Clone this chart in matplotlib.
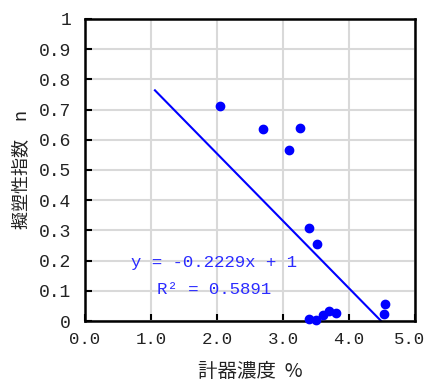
import matplotlib.pyplot as plt
import matplotlib.transforms as mtransforms
import numpy as np

# 計器濃度 (%) と 擬塑性指数 n
conc = [2.05, 2.70, 3.26, 3.09, 3.39, 3.52, 3.39, 3.50, 3.60, 3.69, 3.81, 4.55, 4.53]
n_idx = [0.711, 0.637, 0.639, 0.565, 0.307, 0.254, 0.007, 0.003, 0.020, 0.034, 0.027, 0.055, 0.024]

slope = -0.2229
intercept = 1.0
r2 = 0.5891
trend_x = [1.06, -intercept / slope]

x_ticks = [0, 1, 2, 3, 4, 5]
y_ticks = [0, 0.1, 0.2, 0.3, 0.4, 0.5, 0.6, 0.7, 0.8, 0.9, 1.0]
y_ticklabels = ["0", "0.1", "0.2", "0.3", "0.4", "0.5", "0.6", "0.7", "0.8", "0.9", "1"]

mono = "Liberation Mono"
jp = ["Noto Sans CJK JP", "DejaVu Sans"]

fig = plt.figure(figsize=(4.27, 3.87), dpi=100)
ax = fig.add_axes([0.199, 0.1705, 0.773, 0.7805])

ax.scatter(conc, n_idx, s=36, color="#0000ff", zorder=3, clip_on=False)
tx = np.array(trend_x)
ax.plot(tx, slope * tx + intercept, color="#0000ff", lw=1.5, zorder=2)

ax.set_xlim(0, 5)
ax.set_ylim(0, 1)
ax.set_xticks(x_ticks)
ax.set_xticklabels([f"{v:.1f}" for v in x_ticks], fontfamily=mono, fontsize=12.5)
ax.set_yticks(y_ticks)
ax.set_yticklabels(y_ticklabels, fontfamily=mono, fontsize=13)
ax.tick_params(direction="in", length=5, width=1.5, colors="black")
ax.tick_params(axis="y", pad=10)
ax.tick_params(axis="x", pad=8)
for lbl in ax.get_xticklabels() + ax.get_yticklabels():
    lbl.set_color("#222222")

# 右端の "5.0" が切れないよう少し左へ
last = ax.get_xticklabels()[-1]
last.set_transform(last.get_transform() +
                   mtransforms.ScaledTranslation(-4 / 72, 0, fig.dpi_scale_trans))

ax.grid(True, color="#d9d9d9", lw=1.5)
ax.set_axisbelow(True)
for sp in ax.spines.values():
    sp.set_linewidth(1.8)
    sp.set_color("black")

ax.text(1.95, 0.195, "y = -0.2229x + 1", ha="center", va="center",
        fontfamily=mono, fontsize=12.5, color="#2b2bff")
ax.text(1.95, 0.103, "R\u00b2 = 0.5891", ha="center", va="center",
        fontfamily=mono, fontsize=12.5, color="#2b2bff")

ax.set_xlabel("計器濃度  %", fontfamily=jp, fontsize=14, color="#222222", labelpad=10)
ax.set_ylabel("擬塑性指数\u3000n", fontfamily=jp, fontsize=13, color="#222222", labelpad=6)

plt.savefig("out.png", dpi=100)
